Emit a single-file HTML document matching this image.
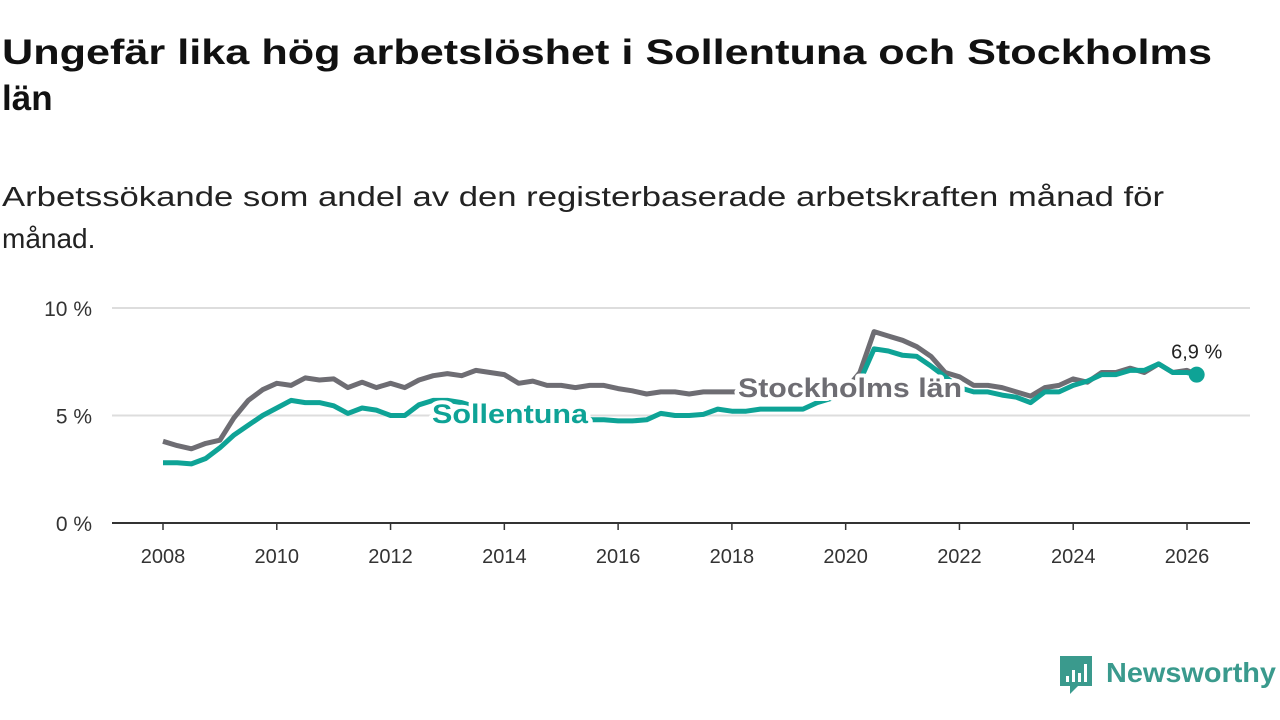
<!DOCTYPE html>
<html><head><meta charset="utf-8"><style>
html,body{margin:0;padding:0;background:#fff;width:1280px;height:720px;overflow:hidden}
svg{display:block;font-family:"Liberation Sans",sans-serif}
</style></head><body>
<svg id="chart" width="1280" height="720">
<text x="2" y="64" font-size="35" font-weight="bold" fill="#111" textLength="1210" lengthAdjust="spacingAndGlyphs">Ungefär lika hög arbetslöshet i Sollentuna och Stockholms</text>
<text x="2" y="110" font-size="35" font-weight="bold" fill="#111">län</text>
<text x="2" y="206" font-size="28" fill="#222" textLength="1162" lengthAdjust="spacingAndGlyphs">Arbetssökande som andel av den registerbaserade arbetskraften månad för</text>
<text x="2" y="248" font-size="28" fill="#222">månad.</text>
<g id="grid"></g><g id="lines"></g><g id="labels"></g>
<g>
<path d="M1060 656 h32 v30 h-14 l-8 8 v-8 h-10 z" fill="#3a9a8d"/>
<rect x="1066" y="676" width="3" height="6" fill="#fff"/><rect x="1072" y="670" width="3" height="12" fill="#fff"/><rect x="1078" y="673" width="3" height="9" fill="#fff"/><rect x="1084" y="664" width="3" height="18" fill="#fff"/>
<text x="1106" y="682" font-size="28" font-weight="bold" fill="#3a9a8d" textLength="170" lengthAdjust="spacingAndGlyphs">Newsworthy</text>
</g>
</svg>
<script>
const dates=[2008,2008.25,2008.5,2008.75,2009,2009.25,2009.5,2009.75,2010,2010.25,2010.5,2010.75,2011,2011.25,2011.5,2011.75,2012,2012.25,2012.5,2012.75,2013,2013.25,2013.5,2013.75,2014,2014.25,2014.5,2014.75,2015,2015.25,2015.5,2015.75,2016,2016.25,2016.5,2016.75,2017,2017.25,2017.5,2017.75,2018,2018.25,2018.5,2018.75,2019,2019.25,2019.5,2019.75,2020,2020.25,2020.5,2020.75,2021,2021.25,2021.5,2021.75,2022,2022.25,2022.5,2022.75,2023,2023.25,2023.5,2023.75,2024,2024.25,2024.5,2024.75,2025,2025.25,2025.5,2025.75,2026,2026.17];
const stockholm=[3.8,3.6,3.45,3.7,3.85,4.9,5.7,6.2,6.5,6.4,6.75,6.65,6.7,6.3,6.55,6.3,6.5,6.3,6.65,6.85,6.95,6.85,7.1,7.0,6.9,6.5,6.6,6.4,6.4,6.3,6.4,6.4,6.25,6.15,6.0,6.1,6.1,6.0,6.1,6.1,6.1,6.1,6.1,6.1,6.0,6.0,6.0,6.1,6.2,7.0,8.9,8.7,8.5,8.2,7.75,7.0,6.8,6.4,6.4,6.3,6.1,5.9,6.3,6.4,6.7,6.55,7.0,7.0,7.2,7.0,7.4,7.0,7.1,6.9];
const sollentuna=[2.8,2.8,2.75,3.0,3.5,4.1,4.55,5.0,5.35,5.7,5.6,5.6,5.45,5.1,5.35,5.25,5.0,5.0,5.5,5.7,5.7,5.6,5.4,5.2,5.0,4.9,4.9,4.7,4.7,4.6,4.8,4.8,4.75,4.75,4.8,5.1,5.0,5.0,5.05,5.3,5.2,5.2,5.3,5.3,5.3,5.3,5.6,5.8,6.0,6.6,8.1,8.0,7.8,7.75,7.3,6.8,6.3,6.1,6.1,5.95,5.85,5.6,6.1,6.1,6.4,6.6,6.9,6.9,7.1,7.1,7.4,7.0,7.0,6.9];
const yTicks=[0,5,10];
const xTicks=[2008,2010,2012,2014,2016,2018,2020,2022,2024,2026];
const X=d=>163+(d-2008)*(1187-163)/18;
const Y=v=>523-v*21.5;
const NS="http://www.w3.org/2000/svg";
function mk(t,a,p){const e=document.createElementNS(NS,t);for(const k in a)e.setAttribute(k,a[k]);p.appendChild(e);return e;}
const grid=document.getElementById('grid');
yTicks.forEach(v=>{
 const l=mk('line',{x1:112,x2:1250,y1:Y(v),y2:Y(v),stroke:v===0?'#333':'#ddd','stroke-width':2},grid);
 
 
 const t=mk('text',{x:92,y:Y(v)+8,'text-anchor':'end','font-size':21,fill:'#333'},grid);
 t.textContent=v+' %';
 
 
});
xTicks.forEach(d=>{
 const l=mk('line',{x1:X(d),x2:X(d),y1:523,y2:530,stroke:'#333','stroke-width':1.5},grid);
 
 
 const t=mk('text',{x:X(d),y:563,'text-anchor':'middle','font-size':20,fill:'#333'},grid);
 t.textContent=d;
 
 
});
const lines=document.getElementById('lines');
function path(vals){return vals.map((v,i)=>(i?'L':'M')+X(dates[i]).toFixed(1)+' '+Y(v).toFixed(1)).join(' ');}
const g1=mk('path',{d:path(stockholm),fill:'none',stroke:'#6e6d73','stroke-width':5,'stroke-linejoin':'round'},lines);


const g2=mk('path',{d:path(sollentuna),fill:'none',stroke:'#0ea396','stroke-width':5,'stroke-linejoin':'round'},lines);


const n=dates.length-1;
const dot=mk('circle',{cx:X(dates[n]),cy:Y(sollentuna[n]),r:8,fill:'#0ea396'},lines);


const labels=document.getElementById('labels');
const s1=mk('text',{x:432,y:423,'font-size':27,'font-weight':'bold',fill:'#0ea396',stroke:'#fff','stroke-width':8,'paint-order':'stroke','stroke-linejoin':'round',textLength:156,lengthAdjust:'spacingAndGlyphs'},labels);
s1.textContent='Sollentuna';


const s2=mk('text',{x:738,y:397,'font-size':27,'font-weight':'bold',fill:'#6e6d73',stroke:'#fff','stroke-width':8,'paint-order':'stroke','stroke-linejoin':'round',textLength:224,lengthAdjust:'spacingAndGlyphs'},labels);
s2.textContent='Stockholms län';


const vl=mk('text',{x:X(dates[n]),y:Y(sollentuna[n])-16,'text-anchor':'middle','font-size':20,fill:'#222',stroke:'#fff','stroke-width':5,'paint-order':'stroke'},labels);
vl.textContent=sollentuna[n].toString().replace('.',',')+' %';


</script>
</body></html>
